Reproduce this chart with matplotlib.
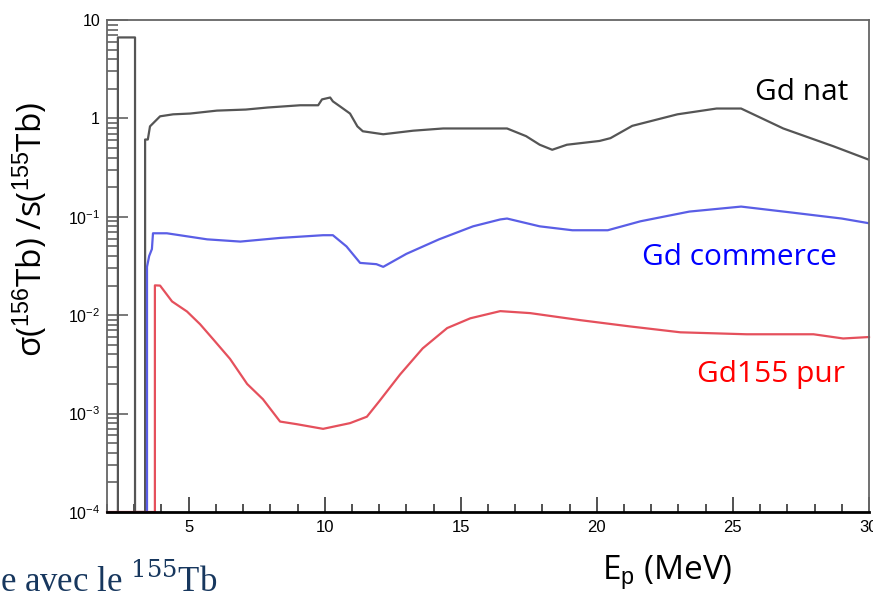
import matplotlib

matplotlib.use("Agg")
import matplotlib.pyplot as plt
from matplotlib.ticker import FixedLocator, FixedFormatter, LogLocator, NullFormatter, MultipleLocator

plt.rcParams["mathtext.fontset"] = "custom"
plt.rcParams["mathtext.rm"] = "Liberation Sans"
plt.rcParams["mathtext.it"] = "Liberation Sans:italic"

# --- data (E in MeV, ratio) ------------------------------------------------
E_NAT = [2.40, 2.40, 3.03, 3.03, 3.40, 3.40, 3.50, 3.58, 3.95, 4.43, 5.05, 6.04,
         7.10, 7.90, 9.10, 9.76, 9.90, 10.2, 10.3, 10.57, 10.93, 11.2, 11.4,
         12.15, 13.25, 14.35, 16.7, 17.4, 17.9, 18.36, 18.9, 20.1, 20.5, 21.3,
         22.96, 24.4, 25.3, 26.85, 28.7, 30.0]
V_NAT = [1e-4, 6.65, 6.65, 1e-4, 1e-4, 0.61, 0.61, 0.83, 1.05, 1.10, 1.12, 1.20,
         1.23, 1.29, 1.36, 1.36, 1.56, 1.63, 1.49, 1.32, 1.12, 0.83, 0.74,
         0.69, 0.75, 0.79, 0.79, 0.66, 0.54, 0.48, 0.54, 0.59, 0.63, 0.84,
         1.10, 1.26, 1.26, 0.79, 0.52, 0.38]

E_COM = [3.47, 3.47, 3.55, 3.65, 3.69, 4.2, 5.68, 6.9, 8.36, 9.94, 10.3, 10.8,
         11.3, 11.9, 12.15, 13.0, 14.2, 15.45, 16.45, 16.7, 17.9, 19.1, 20.4,
         21.6, 23.4, 25.3, 27.1, 29.0, 30.0]
V_COM = [1e-4, 0.031, 0.040, 0.047, 0.068, 0.068, 0.059, 0.056, 0.061, 0.065,
         0.065, 0.050, 0.034, 0.033, 0.031, 0.042, 0.059, 0.080, 0.094, 0.096,
         0.080, 0.073, 0.073, 0.090, 0.113, 0.127, 0.111, 0.096, 0.086]

E_155 = [2.0, 3.76, 3.76, 3.95, 4.39, 4.94, 5.42, 5.9, 6.52, 7.15, 7.73, 8.36,
         8.98, 9.94, 10.93, 11.55, 12.0, 12.77, 13.6, 14.5, 15.35, 16.45,
         17.55, 19.4, 21.2, 23.07, 25.5, 27.96, 29.05, 30.0]
V_155 = [1e-4, 1e-4, 0.0201, 0.0200, 0.0138, 0.0109, 0.0081, 0.0057, 0.0036,
         0.0020, 0.0014, 0.00083, 0.00078, 0.00070, 0.00080, 0.00093, 0.00133,
         0.0025, 0.0046, 0.0074, 0.0093, 0.0110, 0.0105, 0.0089, 0.0077,
         0.0067, 0.0064, 0.0064, 0.0058, 0.0060]

Y_TICKS = [1e-4, 1e-3, 1e-2, 1e-1, 1, 10]
Y_LABELS = ["$10^{-4}$", "$10^{-3}$", "$10^{-2}$", "$10^{-1}$", "1", "10"]
X_TICKS = [5, 10, 15, 20, 25, 30]

W, H = 873, 601
fig = plt.figure(figsize=(W / 100, H / 100), dpi=100)
ax = fig.add_axes([107 / W, 1 - 512 / H, (869 - 107) / W, (512 - 20) / H])

ax.plot(E_NAT, V_NAT, color="#555555", lw=1.6)
ax.plot(E_COM, V_COM, color="#5a5ee6", lw=1.6)
ax.plot(E_155, V_155, color="#e5505c", lw=1.6, clip_on=False)

ax.set_yscale("log")
ax.set_xlim(2, 30)
ax.set_ylim(1e-4, 10)

ax.yaxis.set_major_locator(FixedLocator(Y_TICKS))
ax.yaxis.set_major_formatter(FixedFormatter(Y_LABELS))
ax.yaxis.set_minor_locator(LogLocator(base=10, subs=range(2, 10), numticks=20))
ax.yaxis.set_minor_formatter(NullFormatter())
ax.xaxis.set_major_locator(FixedLocator(X_TICKS))
ax.xaxis.set_minor_locator(MultipleLocator(1))

ax.tick_params(axis="y", which="major", direction="in", length=15, width=1.1,
               color="#555555", labelsize=11.5, pad=5)
ax.tick_params(axis="y", which="minor", direction="in", length=8, width=1.1,
               color="#555555")
ax.tick_params(axis="x", which="major", direction="in", length=11, width=1.1,
               color="#222222", labelsize=12, pad=6)
ax.tick_params(axis="x", which="minor", direction="in", length=6, width=1.1,
               color="#222222")
for lab in ax.get_xticklabels() + ax.get_yticklabels():
    lab.set_fontfamily("Liberation Sans")

for side in ("left", "top", "right"):
    ax.spines[side].set_color("#666666")
    ax.spines[side].set_linewidth(1.3)
ax.spines["bottom"].set_color("black")
ax.spines["bottom"].set_linewidth(2)

# curve labels
fig.text(755 / W, 1 - 100 / H, "Gd nat", color="black", fontsize=21.5,
         family="Open Sans", ha="left", va="baseline")
fig.text(642 / W, 1 - 265 / H, "Gd commerce", color="#0000ff", fontsize=21.5,
         family="Open Sans", ha="left", va="baseline")
fig.text(697 / W, 1 - 382 / H, "Gd155 pur", color="#ff0000", fontsize=21.5,
         family="Open Sans", ha="left", va="baseline")

# axis titles
fig.text(30 / W, 1 - 229 / H, r"σ($^{156}$Tb) /s($^{155}$Tb)", rotation=90,
         fontsize=24, family="Open Sans", ha="center", va="center")
fig.text(667 / W, 1 - 580 / H, r"E$_\mathrm{p}$ (MeV)", fontsize=24,
         family="Open Sans", ha="center", va="baseline")

# leftover slide text
fig.text(0, 1 - 592 / H, r"e avec le $^{155}$Tb", fontsize=25,
         family="Liberation Serif", color="#17375e", ha="left", va="baseline",
         math_fontfamily="dejavuserif")

fig.savefig("out.png", dpi=100)
